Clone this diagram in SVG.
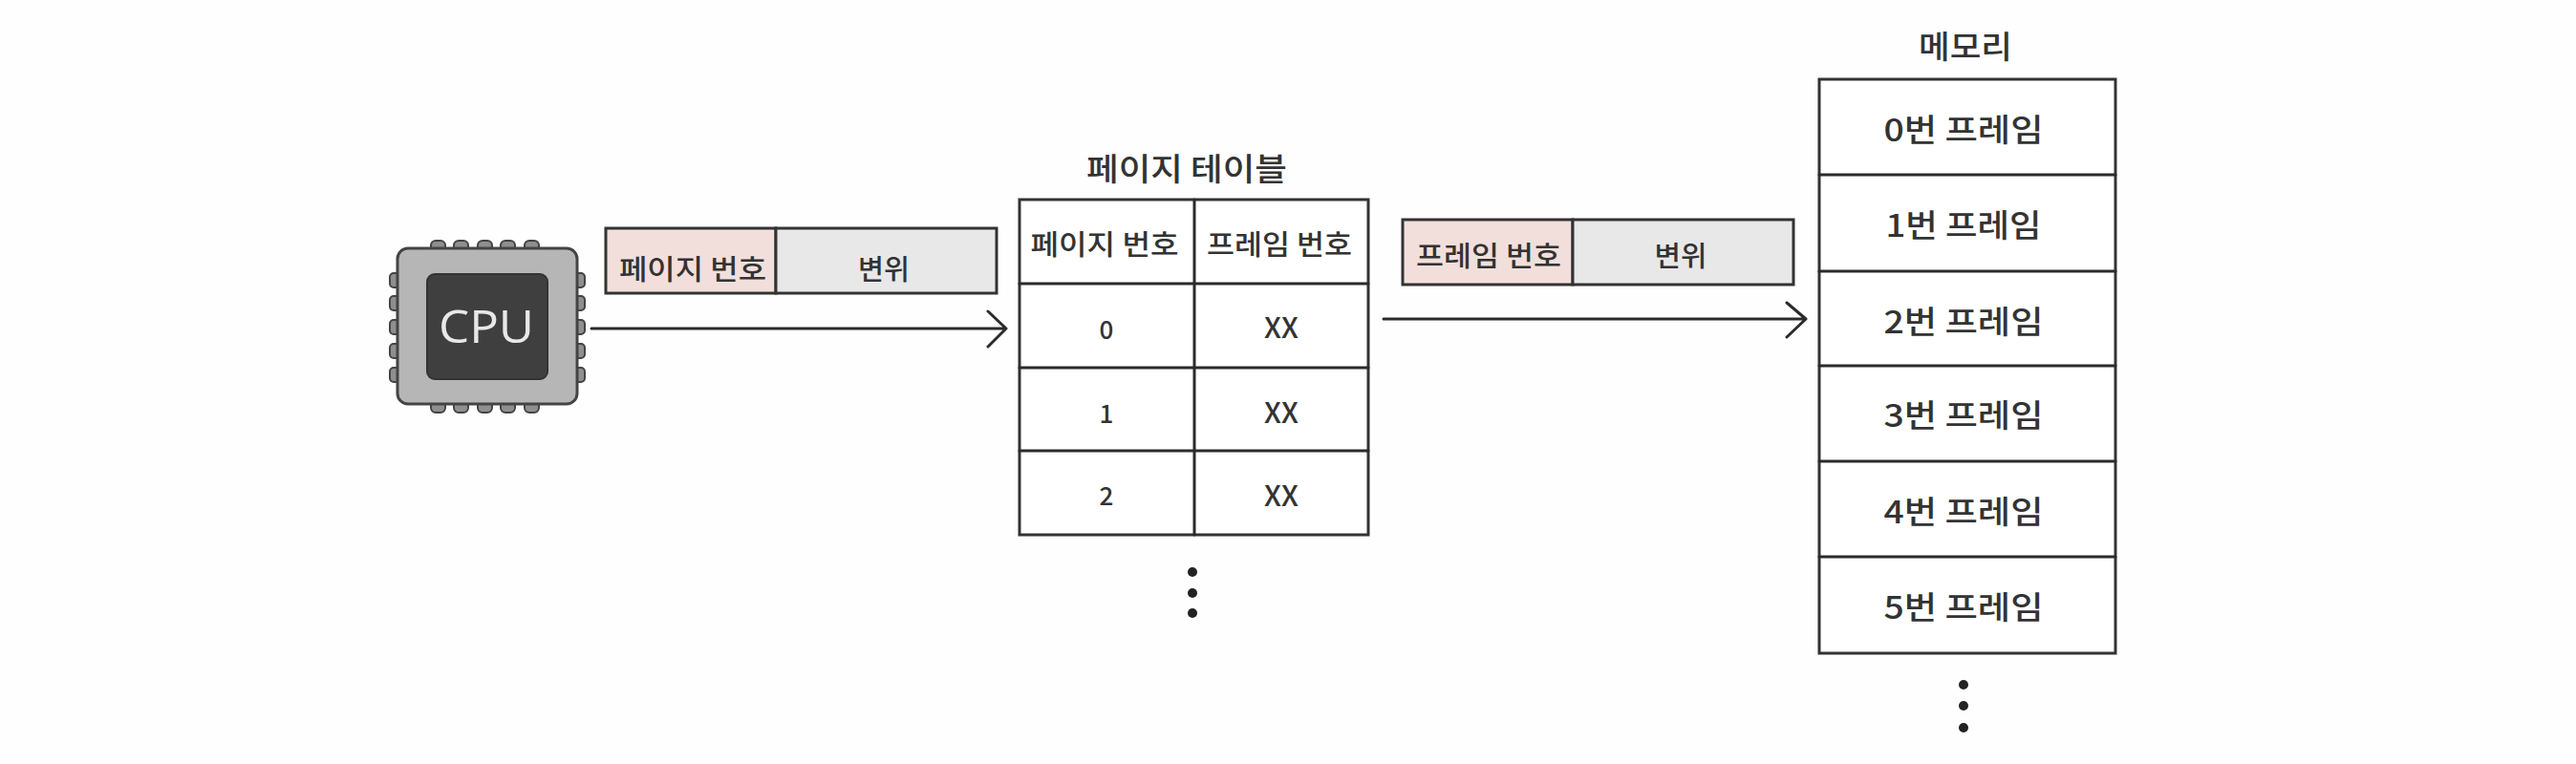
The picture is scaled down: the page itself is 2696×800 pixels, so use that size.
<svg xmlns="http://www.w3.org/2000/svg" width="2696" height="800" viewBox="0 0 2696 800">
<style>
text{font-family:"Noto Sans CJK KR","Noto Sans",sans-serif;fill:#333;text-anchor:middle;dominant-baseline:central;font-weight:500}
.t{font-size:33px}
.s{font-size:29px}
.n{font-size:26px}
.x{font-size:30px}
.b{fill:#fff;stroke:#333;stroke-width:3}
.l{fill:none;stroke:#2b2b2b;stroke-width:3;stroke-linecap:round;stroke-linejoin:round}
.pink{fill:#f2dfdb;stroke:#333;stroke-width:3}
.gray{fill:#e8e8e8;stroke:#333;stroke-width:3}
.pin{fill:#8f8f8f;stroke:#444;stroke-width:2}
.dot{fill:#222}
</style>
<rect width="2696" height="800" fill="#fefefe"/>
<g id="cpu">
<g class="pins">
<rect class="pin" x="451" y="252" width="15" height="13" rx="5"/><rect class="pin" x="475" y="252" width="15" height="13" rx="5"/><rect class="pin" x="500" y="252" width="15" height="13" rx="5"/><rect class="pin" x="524" y="252" width="15" height="13" rx="5"/><rect class="pin" x="549" y="252" width="15" height="13" rx="5"/>
<rect class="pin" x="451" y="419" width="15" height="13" rx="5"/><rect class="pin" x="475" y="419" width="15" height="13" rx="5"/><rect class="pin" x="500" y="419" width="15" height="13" rx="5"/><rect class="pin" x="524" y="419" width="15" height="13" rx="5"/><rect class="pin" x="549" y="419" width="15" height="13" rx="5"/>
<rect class="pin" x="408" y="286" width="12" height="15" rx="4"/><rect class="pin" x="408" y="310" width="12" height="15" rx="4"/><rect class="pin" x="408" y="335" width="12" height="15" rx="4"/><rect class="pin" x="408" y="360" width="12" height="15" rx="4"/><rect class="pin" x="408" y="385" width="12" height="15" rx="4"/>
<rect class="pin" x="600" y="286" width="12" height="15" rx="4"/><rect class="pin" x="600" y="310" width="12" height="15" rx="4"/><rect class="pin" x="600" y="335" width="12" height="15" rx="4"/><rect class="pin" x="600" y="360" width="12" height="15" rx="4"/><rect class="pin" x="600" y="385" width="12" height="15" rx="4"/>
</g>
<rect x="416" y="260" width="188" height="163" rx="11" fill="#b6b6b6" stroke="#444" stroke-width="3"/>
<rect x="447" y="287" width="126" height="110" rx="8" fill="#3f3f3f" stroke="#333" stroke-width="2"/>
<text x="509" y="340" style="fill:#e8e8e8;font-family:'Open Sans',sans-serif;font-weight:400;font-size:48px" textLength="100" lengthAdjust="spacingAndGlyphs">CPU</text>
</g>
<g id="virtual-address">
<rect class="pink" x="634" y="239" width="178" height="68"/>
<rect class="gray" x="812" y="239" width="231" height="68"/>
<text class="s" x="725" y="280" textLength="154" lengthAdjust="spacingAndGlyphs">페이지 번호</text>
<text class="s" x="925" y="280" textLength="54" lengthAdjust="spacingAndGlyphs">변위</text>
</g>
<g id="page-table">
<text class="t" x="1242" y="175" textLength="210" lengthAdjust="spacingAndGlyphs">페이지 테이블</text>
<rect class="b" x="1067" y="209" width="365" height="351"/>
<path class="l" d="M1067 297H1432M1067 385H1432M1067 472H1432M1250 209V560"/>
<text class="s" x="1156" y="254" textLength="155" lengthAdjust="spacingAndGlyphs">페이지 번호</text>
<text class="s" x="1339" y="254" textLength="152" lengthAdjust="spacingAndGlyphs">프레임 번호</text>
<text class="n" x="1158" y="343">0</text><text class="x" x="1341" y="341">XX</text>
<text class="n" x="1158" y="431">1</text><text class="x" x="1341" y="430">XX</text>
<text class="n" x="1158" y="517">2</text><text class="x" x="1341" y="517">XX</text>
<circle class="dot" cx="1248" cy="599" r="5"/><circle class="dot" cx="1248" cy="621" r="5"/><circle class="dot" cx="1248" cy="642" r="5"/>
</g>
<g id="physical-address">
<rect class="pink" x="1468" y="230" width="178" height="68"/>
<rect class="gray" x="1646" y="230" width="231" height="68"/>
<text class="s" x="1558" y="266" textLength="152" lengthAdjust="spacingAndGlyphs">프레임 번호</text>
<text class="s" x="1759" y="266" textLength="55" lengthAdjust="spacingAndGlyphs">변위</text>
</g>
<g id="memory">
<text class="t" x="2057" y="47" textLength="98" lengthAdjust="spacingAndGlyphs">메모리</text>
<rect class="b" x="1904" y="83" width="310" height="601"/>
<path class="l" d="M1904 183H2214M1904 284H2214M1904 383H2214M1904 483H2214M1904 583H2214"/>
<text class="t" x="2055" y="134" textLength="167" lengthAdjust="spacingAndGlyphs">0번 프레임</text>
<text class="t" x="2055" y="234" textLength="163" lengthAdjust="spacingAndGlyphs">1번 프레임</text>
<text class="t" x="2055" y="335" textLength="167" lengthAdjust="spacingAndGlyphs">2번 프레임</text>
<text class="t" x="2055" y="433" textLength="167" lengthAdjust="spacingAndGlyphs">3번 프레임</text>
<text class="t" x="2055" y="534" textLength="167" lengthAdjust="spacingAndGlyphs">4번 프레임</text>
<text class="t" x="2055" y="634" textLength="167" lengthAdjust="spacingAndGlyphs">5번 프레임</text>
<circle class="dot" cx="2055" cy="717" r="5"/><circle class="dot" cx="2055" cy="739" r="5"/><circle class="dot" cx="2055" cy="762" r="5"/>
</g>
<g id="connectors">
<path id="arrow-cpu-table" class="l" d="M619 344H1053M1034 326L1053 344L1034 363"/>
<path id="arrow-table-memory" class="l" d="M1448 334H1890M1870 317L1890 334L1870 353"/>
</g>
</svg>
